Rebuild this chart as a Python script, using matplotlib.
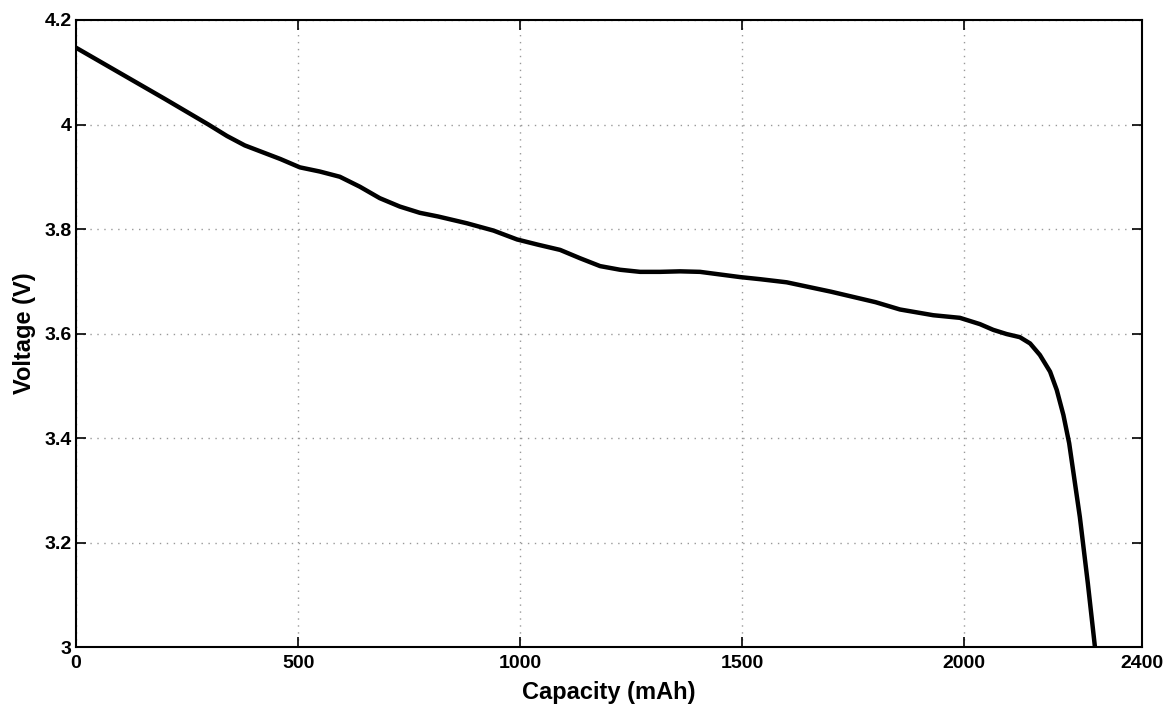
import matplotlib
matplotlib.use("Agg")
import matplotlib.pyplot as plt

# Curva de descarga
capacidad = [0, 100, 200, 298, 340, 380, 420, 460, 504, 549, 594, 639,
             684, 729, 774, 815, 880, 940, 993, 1040, 1090, 1135, 1180, 1225,
             1270, 1315, 1360, 1405, 1450, 1495, 1540, 1600, 1700, 1800,
             1855, 1930, 1990, 2035, 2065, 2095, 2125, 2148, 2170, 2193,
             2208, 2223, 2236, 2260, 2278, 2294]
voltaje = [4.147, 4.098, 4.049, 4.000, 3.978, 3.960, 3.947, 3.934, 3.918,
           3.910, 3.900, 3.881, 3.859, 3.843, 3.831, 3.824, 3.811,
           3.797, 3.780, 3.770, 3.760, 3.744, 3.729, 3.722, 3.718, 3.718,
           3.719, 3.718, 3.713, 3.708, 3.704, 3.698, 3.680, 3.660, 3.646,
           3.635, 3.630, 3.618, 3.607, 3.599, 3.593, 3.581, 3.559, 3.527,
           3.492, 3.444, 3.390, 3.249, 3.122, 3.000]

xticks = [0, 500, 1000, 1500, 2000, 2400]
yticks = [3, 3.2, 3.4, 3.6, 3.8, 4, 4.2]
yticklabels = ["3", "3.2", "3.4", "3.6", "3.8", "4", "4.2"]

plt.rcParams['font.family'] = ['Liberation Sans', 'DejaVu Sans']

fig = plt.figure(figsize=(11.67, 7.09), dpi=100)
ax = fig.add_axes([0.0651, 0.0874, 0.9135, 0.8844])

ax.plot(capacidad, voltaje, color='black', lw=3.2, solid_capstyle='butt',
        solid_joinstyle='round')

ax.set_xlim(0, 2400)
ax.set_ylim(3, 4.2)
ax.set_xticks(xticks)
ax.set_xticklabels([str(t) for t in xticks])
ax.set_yticks(yticks)
ax.set_yticklabels(yticklabels)

ax.grid(True, color='#999999', lw=1.0, linestyle=(0, (1, 4)))
ax.tick_params(direction='in', length=7.5, width=1.2, top=True, right=True,
               labelsize=14)
ax.tick_params(axis='x', pad=6)
ax.tick_params(axis='y', pad=3)
for lbl in ax.get_xticklabels() + ax.get_yticklabels():
    lbl.set_fontweight('bold')
for s in ax.spines.values():
    s.set_linewidth(1.5)

ax.set_xlabel("Capacity (mAh)", fontsize=17, fontweight='bold', labelpad=6)
ax.set_ylabel("Voltage (V)", fontsize=17, fontweight='bold', labelpad=6)

fig.savefig("out.png", dpi=100)
